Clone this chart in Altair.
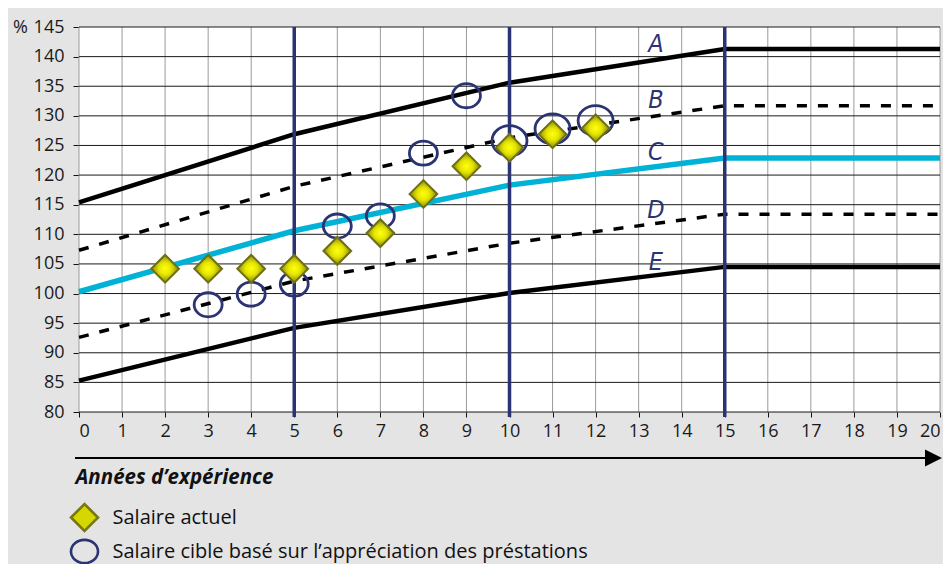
import altair as alt
import pandas as pd

# ---------------- data ----------------
years = [0, 5, 10, 15, 20]
line_A = [115.4, 126.9, 135.6, 141.3, 141.3]
line_B = [107.3, 118.1, 126.3, 131.7, 131.7]
line_C = [100.3, 110.6, 118.3, 122.9, 122.9]
line_D = [92.6, 102.1, 108.5, 113.4, 113.4]
line_E = [85.3, 94.2, 100.1, 104.5, 104.5]

actual_years = [2, 3, 4, 5, 6, 7, 8, 9, 10, 11, 12]
actual_values = [104.2, 104.2, 104.2, 104.2, 107.2, 110.2, 116.8, 121.5, 124.6, 126.9, 127.9]

target_years = [3, 4, 5, 6, 7, 8, 9, 10, 11, 12]
target_values = [98.1, 99.9, 101.6, 111.4, 113.1, 123.7, 133.4, 125.8, 127.8, 129.2]

label_names = ["A", "B", "C", "D", "E"]
label_years = [13.4, 13.4, 13.4, 13.4, 13.4]
label_values = [142.2, 132.7, 123.9, 114.1, 105.3]

milestones = [5, 10, 15]
x_ticks = list(range(0, 21))
y_ticks = list(range(80, 146, 5))

series_names = ["Salaire actuel", "Salaire cible basé sur l’appréciation des préstations"]
x_title = "Années d’expérience"

# ---------------- tables ----------------
lines = pd.DataFrame(
    [
        {"line": name, "year": x, "value": v}
        for name, vals in zip(label_names, [line_A, line_B, line_C, line_D, line_E])
        for x, v in zip(years, vals)
    ]
)

target_df = pd.DataFrame({"year": target_years, "value": target_values})
target_df["series"] = series_names[1]
target_df["sz"] = [1225 if y >= 10 else 784 for y in target_years]
target_df["sw"] = 2.8
actual_df = pd.DataFrame({"year": actual_years, "value": actual_values})
actual_df["series"] = series_names[0]
actual_df["sz"] = 729
actual_df["sw"] = 2.5
pts = pd.concat([target_df, actual_df], ignore_index=True)

labels = pd.DataFrame({"label": label_names, "year": label_years, "value": label_values})
miles = pd.DataFrame({"year": milestones})
vgrid = pd.DataFrame({"year": x_ticks})
hgrid = pd.DataFrame({"value": y_ticks})
frame = pd.DataFrame({"year": [x_ticks[0]], "year2": [x_ticks[-1]],
                      "value": [y_ticks[0]], "value2": [y_ticks[-1]]})
dummy = pd.DataFrame({"a": [0]})

FONT = "Open Sans"
NAVY = "#2b3373"
ELLIPSE = "M-1,0A1,0.86,0,1,1,1,0A1,0.86,0,1,1,-1,0Z"
TRI = "M-1,-1L1,0L-1,1Z"

xscale = alt.Scale(domain=[0, 20], nice=False, zero=False)
yscale = alt.Scale(domain=[80, 145], nice=False, zero=False)

xaxis = alt.Axis(
    values=x_ticks, format="d", grid=False,
    domain=False, tickColor="#111", tickSize=5, labelPadding=5,
    labelFontSize=18, labelColor="#1a1a1a", labelFont=FONT,
    title=x_title, titleFont=FONT, titleFontSize=20.5, titleFontWeight="bold",
    titleFontStyle="italic", titleColor="#111", titleAnchor="start", titleAlign="left",
    titleBaseline="middle", titleX=-4, titleY=65,
)
yaxis = alt.Axis(
    values=y_ticks, format="d", grid=False,
    domain=False, tickColor="#111", tickSize=6, labelPadding=9,
    labelFontSize=18, labelColor="#1a1a1a", labelFont=FONT,
    title="%", titleAngle=0, titleFont=FONT, titleFontSize=18, titleFontWeight="normal",
    titleColor="#1a1a1a", titleAlign="center", titleBaseline="middle", titleX=-59, titleY=0,
)

X = alt.X("year:Q", scale=xscale, axis=xaxis)
Y = alt.Y("value:Q", scale=yscale, axis=yaxis)

plot_bg = alt.Chart(frame).mark_rect(color="white", opacity=1).encode(
    x=X, x2="year2:Q", y=Y, y2="value2:Q"
)
grid_v = alt.Chart(vgrid).mark_rule(color="#9a9a9a", strokeWidth=1).encode(x=X)
grid_h = alt.Chart(hgrid).mark_rule(color="#1a1a1a", strokeWidth=1).encode(y=Y)

solid = alt.Chart(lines).transform_filter(
    alt.FieldOneOfPredicate(field="line", oneOf=["A", "E"])
).mark_line(color="black", strokeWidth=4.5).encode(x=X, y=Y, detail="line:N")

dashed = alt.Chart(lines).transform_filter(
    alt.FieldOneOfPredicate(field="line", oneOf=["B", "D"])
).mark_line(color="black", strokeWidth=3.5, strokeDash=[10, 11]).encode(x=X, y=Y, detail="line:N")

cyan = alt.Chart(lines).transform_filter(
    alt.FieldEqualPredicate(field="line", equal="C")
).mark_line(color="#00b2d6", strokeWidth=5.5).encode(x=X, y=Y)

rules = alt.Chart(miles).mark_rule(color=NAVY, strokeWidth=3.5).encode(
    x=X, y=alt.value(0), y2=alt.value(390)
)

texts = alt.Chart(labels).mark_text(
    font="Liberation Sans Narrow, DejaVu Sans Condensed, Open Sans",
    fontStyle="italic", fontSize=25, color=NAVY, baseline="middle", align="center",
).encode(x=X, y=Y, text="label:N")

leg = alt.Legend(
    orient="none", legendX=-9.5, legendY=475.5, title=None, symbolSize=729,
    symbolStrokeWidth=2.6, labelFontSize=20, labelFont=FONT, labelColor="#111",
    labelOffset=13, rowPadding=-3, padding=0, labelLimit=0, symbolOpacity=1,
)

points = alt.Chart(pts).mark_point(opacity=1, fillOpacity=1, strokeOpacity=1).encode(
    x=X, y=Y,
    shape=alt.Shape("series:N", scale=alt.Scale(domain=series_names, range=["diamond", ELLIPSE]), legend=leg),
    fill=alt.Fill("series:N", scale=alt.Scale(domain=series_names, range=["#d6d600", "transparent"]), legend=leg),
    stroke=alt.Stroke("series:N", scale=alt.Scale(domain=series_names, range=["#76761a", NAVY]), legend=leg),
    size=alt.Size("sz:Q", scale=None),
    strokeWidth=alt.StrokeWidth("sw:Q", scale=None),
)

# glossy overlay for the diamonds (same data, radial gradient fill)
diamond_gloss = alt.Chart(actual_df).mark_point(
    shape="diamond", size=729, opacity=1, strokeWidth=1.5, stroke="#6e6e14",
    fill=alt.Gradient(
        gradient="radial",
        stops=[alt.GradientStop(color="#ffff10", offset=0.0),
               alt.GradientStop(color="#e6e600", offset=0.45),
               alt.GradientStop(color="#8a8a14", offset=1.0)],
    ),
).encode(x=X, y=Y)

arrow_line = alt.Chart(dummy).mark_rule(color="black", strokeWidth=2).encode(
    x=alt.value(-4), x2=alt.value(850), y=alt.value(431)
)
arrow_head = alt.Chart(dummy).mark_point(shape=TRI, size=289, filled=True, color="black", opacity=1).encode(
    x=alt.value(854.5), y=alt.value(431)
)

chart = alt.layer(
    plot_bg, grid_v, grid_h, solid, dashed, cyan, rules, texts, points, diamond_gloss,
    arrow_line, arrow_head
).properties(
    width=861, height=385,
    padding={"left": 71, "top": 19, "right": 3, "bottom": 152},
    autosize=alt.AutoSizeParams(type="none"),
    background="#e4e4e4",
).configure_view(strokeWidth=0).configure(font=FONT)

chart.save("out.html", embed_options={"renderer": "svg", "actions": False})
